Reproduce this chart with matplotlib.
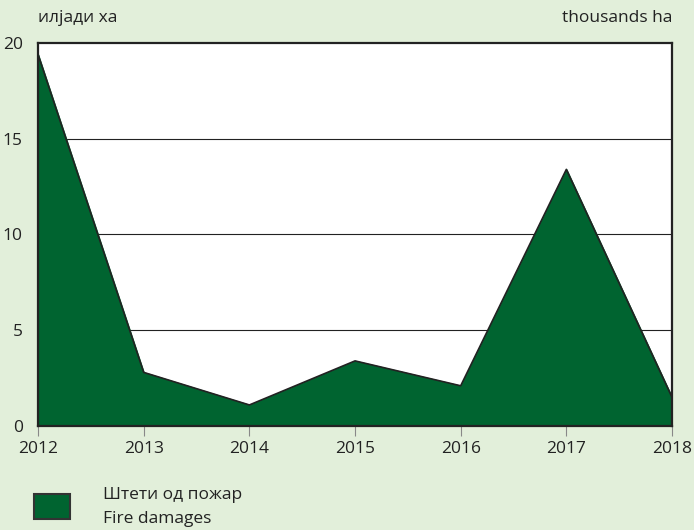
import matplotlib.pyplot as plt
from matplotlib.patches import Rectangle

years = [2012, 2013, 2014, 2015, 2016, 2017, 2018]
fire_damages = [19.4, 2.8, 1.1, 3.4, 2.1, 13.4, 1.5]
yticks = [0, 5, 10, 15, 20]

bg = "#e2efda"
green = "#006430"
plt.rcParams['font.family'] = ['Open Sans', 'DejaVu Sans']

fig = plt.figure(figsize=(6.94, 5.30), dpi=100, facecolor=bg)
ax = fig.add_axes([0.0548, 0.1962, 0.9135, 0.7227])
ax.set_facecolor("white")

for v in yticks[1:-1]:
    ax.axhline(v, color="#222222", lw=0.8, zorder=1)
ax.fill_between(years, fire_damages, 0, color=green, zorder=2)
ax.plot(years, fire_damages, color="#222222", lw=1.2, zorder=3)

ax.set_xlim(years[0], years[-1])
ax.set_ylim(0, 20)
ax.set_xticks(years)
ax.set_yticks(yticks)
ax.tick_params(axis="x", direction="out", length=7, color="#888888", labelsize=12.5, labelcolor="#222222", pad=4)
ax.tick_params(axis="y", length=0, labelsize=12.5, labelcolor="#222222", pad=11)
for s in ax.spines.values():
    s.set_color("#222222")
    s.set_linewidth(1.6)
    s.set_zorder(4)

fig.text(38 / 694, 1 - 18 / 530, "илјади ха", fontsize=12.5, color="#222222", va="center", ha="left")
fig.text(672 / 694, 1 - 18 / 530, "thousands ha", fontsize=12.5, color="#222222", va="center", ha="right")

fig.add_artist(Rectangle((34 / 694, 1 - 519 / 530), 36 / 694, 25 / 530, transform=fig.transFigure,
                         facecolor=green, edgecolor="#333333", lw=1.5))
fig.text(103 / 694, 1 - 495 / 530, "Штети од пожар", fontsize=12.5, color="#222222", va="center", ha="left")
fig.text(103 / 694, 1 - 519 / 530, "Fire damages", fontsize=12.5, color="#222222", va="center", ha="left")

fig.savefig("out.png", dpi=100, facecolor=bg)
